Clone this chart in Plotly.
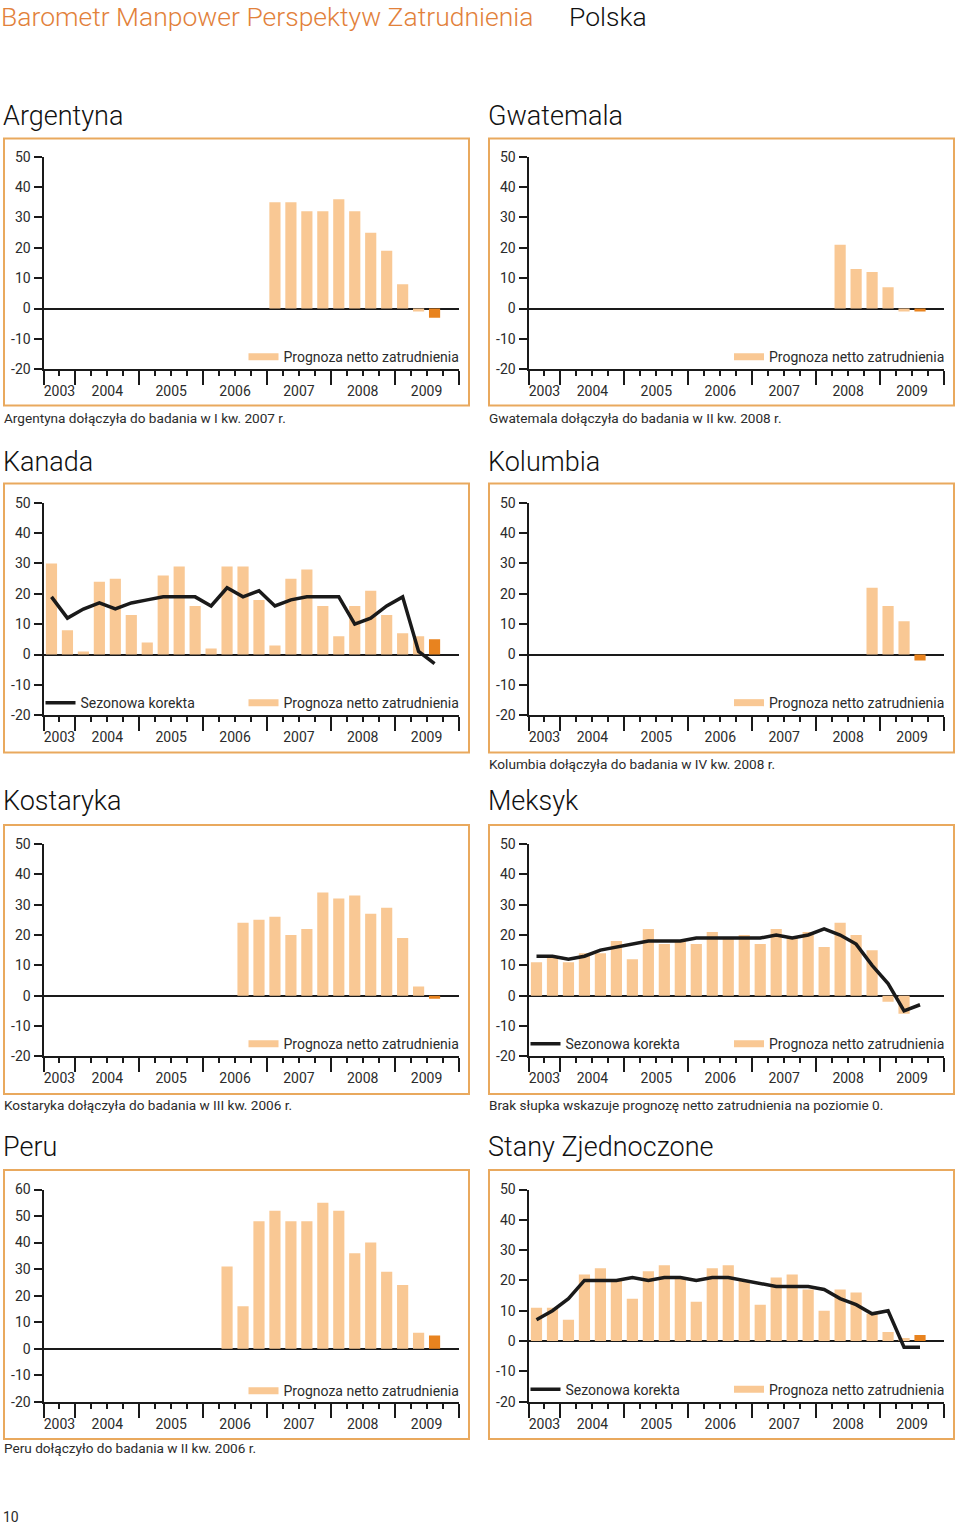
import plotly.graph_objects as go

# ---------------- data ----------------
QUARTERS = ["III 2003", "IV 2003",
            "I 2004", "II 2004", "III 2004", "IV 2004",
            "I 2005", "II 2005", "III 2005", "IV 2005",
            "I 2006", "II 2006", "III 2006", "IV 2006",
            "I 2007", "II 2007", "III 2007", "IV 2007",
            "I 2008", "II 2008", "III 2008", "IV 2008",
            "I 2009", "II 2009", "III 2009", "IV 2009"]
YEARS = ["2003", "2004", "2005", "2006", "2007", "2008", "2009"]
Y_TICKS_50 = [-20, -10, 0, 10, 20, 30, 40, 50]
Y_TICKS_60 = [-20, -10, 0, 10, 20, 30, 40, 50, 60]

ARGENTYNA_START = "I 2007"
ARGENTYNA = [35, 35, 32, 32, 36, 32, 25, 19, 8, -1, -3]

GWATEMALA_START = "II 2008"
GWATEMALA = [21, 13, 12, 7, -1, -1]

KANADA_START = "III 2003"
KANADA = [30, 8, 1, 24, 25, 13, 4, 26, 29, 16, 2, 29, 29, 18, 3, 25, 28, 16, 6, 16, 21, 13, 7, 6, 5]
KANADA_SA = [19, 12, 15, 17, 15, 17, 18, 19, 19, 19, 16, 22, 19, 21, 16, 18, 19, 19, 19, 10, 12, 16, 19, 1, -3]

KOLUMBIA_START = "IV 2008"
KOLUMBIA = [22, 16, 11, -2]

KOSTARYKA_START = "III 2006"
KOSTARYKA = [24, 25, 26, 20, 22, 34, 32, 33, 27, 29, 19, 3, -1]

MEKSYK_START = "III 2003"
MEKSYK = [11, 13, 11, 14, 14, 18, 12, 22, 17, 18, 17, 21, 19, 20, 17, 22, 19, 21, 16, 24, 20, 15, -2, -6, 0]
MEKSYK_SA = [13, 13, 12, 13, 15, 16, 17, 18, 18, 18, 19, 19, 19, 19, 19, 20, 19, 20, 22, 20, 17, 10, 4, -5, -3]

PERU_START = "II 2006"
PERU = [31, 16, 48, 52, 48, 48, 55, 52, 36, 40, 29, 24, 6, 5]

USA_START = "III 2003"
USA = [11, 11, 7, 22, 24, 20, 14, 23, 25, 21, 13, 24, 25, 20, 12, 21, 22, 17, 10, 17, 16, 9, 3, 1, 2]
USA_SA = [7, 10, 14, 20, 20, 20, 21, 20, 21, 21, 20, 21, 21, 20, 19, 18, 18, 18, 17, 14, 12, 9, 10, -2, -2]

# ---------------- styles ----------------
LIGHT = "#F9C894"
DARK = "#E8831F"
BOX = "#E9A95E"
HEADER_ORANGE = "#E2813A"
INK = "#1a1a1a"
TXT = "#2b2b2b"
FONT = "Roboto, 'Liberation Sans', Arial, sans-serif"
W, H = 960, 1528

COL_AXIS_X = [(43.5, 458.5), (528.5, 944.0)]
COL_BOX_X = [(4, 469), (489, 954)]
COL_TITLE_X = [1, 486]
COL_NOTE_X = [2, 487]
ROW_AXIS_Y = [(156.7, 369.3), (502.8, 715.2), (844.0, 1056.3), (1189.5, 1401.7)]
ROW_BOX_Y = [(138.5, 405.5), (483.5, 752.5), (825, 1094), (1170, 1439)]
ROW_TITLE_Y = [116, 462, 801, 1147]
ROW_NOTE_Y = [418, 764, 1105, 1448]

panels = [
    dict(name="Argentyna", row=0, col=0, start=ARGENTYNA_START, bars=ARGENTYNA, sa=None,
         yt=Y_TICKS_50, note="Argentyna dołączyła do badania w I kw. 2007 r."),
    dict(name="Gwatemala", row=0, col=1, start=GWATEMALA_START, bars=GWATEMALA, sa=None,
         yt=Y_TICKS_50, note="Gwatemala dołączyła do badania w II kw. 2008 r."),
    dict(name="Kanada", row=1, col=0, start=KANADA_START, bars=KANADA, sa=KANADA_SA,
         yt=Y_TICKS_50, note=None),
    dict(name="Kolumbia", row=1, col=1, start=KOLUMBIA_START, bars=KOLUMBIA, sa=None,
         yt=Y_TICKS_50, note="Kolumbia dołączyła do badania w IV kw. 2008 r."),
    dict(name="Kostaryka", row=2, col=0, start=KOSTARYKA_START, bars=KOSTARYKA, sa=None,
         yt=Y_TICKS_50, note="Kostaryka dołączyła do badania w III kw. 2006 r."),
    dict(name="Meksyk", row=2, col=1, start=MEKSYK_START, bars=MEKSYK, sa=MEKSYK_SA,
         yt=Y_TICKS_50, note="Brak słupka wskazuje prognozę netto zatrudnienia na poziomie 0."),
    dict(name="Peru", row=3, col=0, start=PERU_START, bars=PERU, sa=None,
         yt=Y_TICKS_60, note="Peru dołączyło do badania w II kw. 2006 r."),
    dict(name="Stany Zjednoczone", row=3, col=1, start=USA_START, bars=USA, sa=USA_SA,
         yt=Y_TICKS_50, note=None),
]


def px(x):
    return x / W


def py(y):
    return 1 - y / H


# quarter slot geometry derived from the quarter list
n_q = len(QUARTERS)
x_range = [-0.5, n_q - 0.5]
year_of = [q.split()[1] for q in QUARTERS]
boundaries = [-0.5] + [i - 0.5 for i in range(1, n_q) if year_of[i] != year_of[i - 1]] + [n_q - 0.5]
minor_vals = [i - 0.5 for i in range(n_q + 1)]
year_centers = [sum(i for i in range(n_q) if year_of[i] == y) / year_of.count(y) for y in YEARS]

fig = go.Figure()
layout = dict(width=W, height=H,
              margin=dict(l=0, r=0, t=0, b=0, pad=0, autoexpand=False),
              paper_bgcolor="white", plot_bgcolor="rgba(0,0,0,0)",
              font=dict(family=FONT, color=TXT), showlegend=True,
              bargap=0.3, template="none")
shapes, annotations = [], []
n_panels = len(panels)
legend_count = 0


def legend_key(n):
    return "legend" if n == 1 else f"legend{n}"


LEG_COMMON = dict(yanchor="middle", bgcolor="rgba(0,0,0,0)", borderwidth=0,
                  font=dict(size=14, color=TXT), orientation="h",
                  itemclick=False, itemdoubleclick=False)

for p, pan in enumerate(panels, start=1):
    sfx = "" if p == 1 else str(p)
    xref, yref = f"x{sfx}", f"y{sfx}"
    ov = p + n_panels
    x0, x1 = COL_AXIS_X[pan["col"]]
    ytop, ybot = ROW_AXIS_Y[pan["row"]]
    yt = pan["yt"]
    ymin, ymax = yt[0], yt[-1]

    start = QUARTERS.index(pan["start"])
    xs = [start + k for k in range(len(pan["bars"]))]
    colors = [LIGHT] * (len(xs) - 1) + [DARK]

    fig.add_trace(go.Bar(x=xs, y=pan["bars"], marker=dict(color=colors, line=dict(width=0)),
                         width=0.7, xaxis=xref, yaxis=yref, showlegend=False,
                         hoverinfo="skip"))
    # empty trace so the year-label axis is drawn
    fig.add_trace(go.Scatter(x=[None], y=[None], mode="markers", xaxis=f"x{ov}", yaxis=yref,
                             showlegend=False, hoverinfo="skip"))

    def val_to_py(v):
        return ytop + (ymax - v) / (ymax - ymin) * (ybot - ytop)

    leg_y = py(val_to_py(-16))

    if pan["sa"] is not None:
        legend_count += 1
        lk = legend_key(legend_count)
        fig.add_trace(go.Scatter(x=xs, y=pan["sa"], mode="lines",
                                 line=dict(color=INK, width=3.5),
                                 xaxis=xref, yaxis=yref, name="Sezonowa korekta",
                                 legend=lk, hoverinfo="skip"))
        layout[lk] = dict(x=px(x0 - 3), y=leg_y, xanchor="left", **LEG_COMMON)

    legend_count += 1
    lk = legend_key(legend_count)
    fig.add_trace(go.Scatter(x=[None], y=[None], mode="lines",
                             line=dict(color=LIGHT, width=7),
                             xaxis=xref, yaxis=yref, name="Prognoza netto zatrudnienia",
                             legend=lk, hoverinfo="skip"))
    layout[lk] = dict(x=px(x1 + 6), y=leg_y, xanchor="right", **LEG_COMMON)

    dom_x = [px(x0), px(x1)]
    dom_y = [py(ybot), py(ytop)]
    layout[f"xaxis{sfx}"] = dict(
        domain=dom_x, anchor=yref, range=x_range, showgrid=False, zeroline=False,
        showline=True, linecolor=INK, linewidth=2, automargin=False,
        tickmode="array", tickvals=boundaries, ticks="outside", ticklen=14,
        tickwidth=2, tickcolor=INK, showticklabels=False, fixedrange=True,
        minor=dict(tickmode="array", tickvals=minor_vals, ticks="outside",
                   ticklen=5, tickwidth=1.5, tickcolor=INK, showgrid=False))
    layout[f"xaxis{ov}"] = dict(
        overlaying=xref, anchor=yref, side="bottom", range=x_range,
        showgrid=False, zeroline=False, showline=False, automargin=False,
        tickmode="array", tickvals=year_centers, ticktext=YEARS,
        ticks="outside", ticklen=9, tickcolor="rgba(0,0,0,0)",
        tickfont=dict(size=14, color=TXT), fixedrange=True)
    layout[f"yaxis{sfx}"] = dict(
        domain=dom_y, anchor=xref, range=[ymin, ymax], showgrid=False,
        zeroline=True, zerolinecolor=INK, zerolinewidth=2, automargin=False,
        showline=True, linecolor=INK, linewidth=2,
        tickmode="array", tickvals=yt, ticktext=[str(v) for v in yt],
        ticks="outside", ticklen=8, tickwidth=1.5, tickcolor=INK,
        tickfont=dict(size=14, color=TXT), fixedrange=True)

    bx0, bx1 = COL_BOX_X[pan["col"]]
    by0, by1 = ROW_BOX_Y[pan["row"]]
    shapes.append(dict(type="rect", xref="paper", yref="paper",
                       x0=px(bx0), x1=px(bx1), y0=py(by1), y1=py(by0),
                       line=dict(color=BOX, width=2), fillcolor="rgba(0,0,0,0)",
                       layer="below"))
    annotations.append(dict(text=pan["name"], xref="paper", yref="paper",
                            x=px(COL_TITLE_X[pan["col"]]), y=py(ROW_TITLE_Y[pan["row"]]),
                            xanchor="left", yanchor="middle", showarrow=False,
                            font=dict(size=27, color="#111", family=FONT, weight=300)))
    if pan["note"]:
        annotations.append(dict(text=pan["note"], xref="paper", yref="paper",
                                x=px(COL_NOTE_X[pan["col"]]), y=py(ROW_NOTE_Y[pan["row"]]),
                                xanchor="left", yanchor="middle", showarrow=False,
                                font=dict(size=13.6, color=TXT, family=FONT)))

annotations.append(dict(text="Barometr Manpower Perspektyw Zatrudnienia", xref="paper", yref="paper",
                        x=px(0), y=1, xanchor="left", yanchor="top", showarrow=False, borderpad=0,
                        font=dict(size=26.5, color=HEADER_ORANGE, family=FONT, weight=300)))
annotations.append(dict(text="Polska", xref="paper", yref="paper",
                        x=px(568), y=1, xanchor="left", yanchor="top", showarrow=False, borderpad=0,
                        font=dict(size=26.5, color="#111", family=FONT, weight=300)))
annotations.append(dict(text="10", xref="paper", yref="paper",
                        x=px(1), y=py(1517), xanchor="left", yanchor="middle", showarrow=False,
                        font=dict(size=14, color=TXT, family=FONT)))

layout["shapes"] = shapes
layout["annotations"] = annotations
fig.update_layout(**layout)
fig.write_html("out.html", config={"displayModeBar": False},
               post_script="document.body.style.margin='0';document.body.style.padding='0';")
